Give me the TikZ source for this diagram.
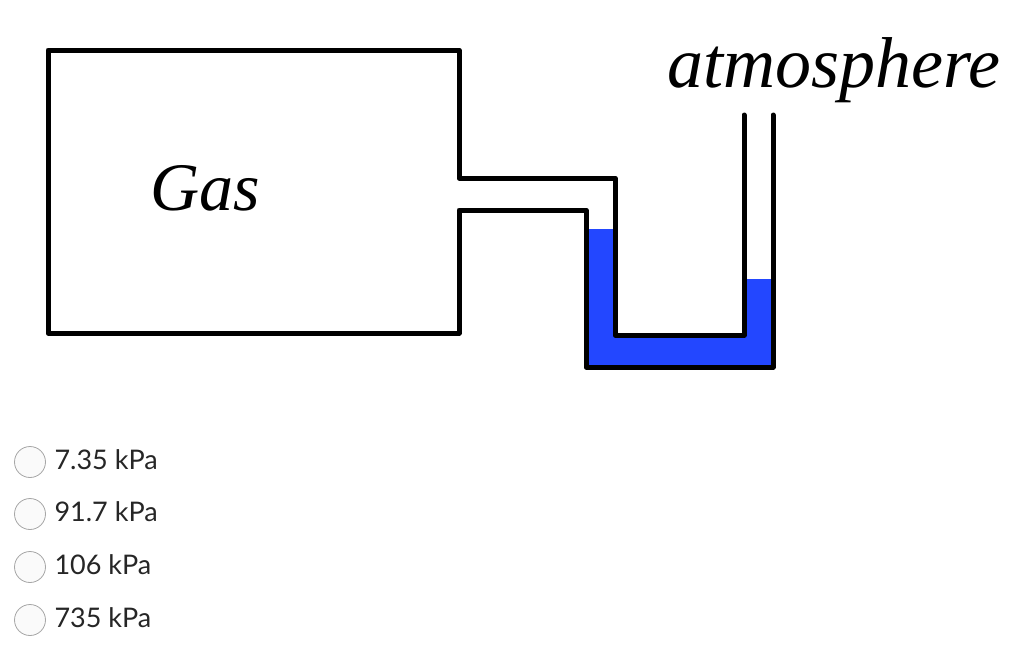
\documentclass[tikz,border=0pt]{standalone}
\usepackage{fontspec}
\setmainfont{Liberation Serif}
\newfontfamily\optfont{Lato}
\definecolor{fluid}{HTML}{2347FF}
\begin{document}
\begin{tikzpicture}[x=1pt,y=-1pt,
  wall/.style={line width=5pt,line join=round,line cap=round},
  radio/.style={circle,draw=gray!70,fill=gray!4,line width=0.8pt,minimum size=31pt,inner sep=0pt},
  opt/.style={anchor=west,font=\optfont\fontsize{27}{30}\selectfont,text=black!85}]
\useasboundingbox (0,0) rectangle (1024,657);
\fill[fluid] (586,229) rectangle (615,367);
\fill[fluid] (586,335) rectangle (773,367);
\fill[fluid] (744,279) rectangle (773,367);
\draw[wall] (744,115) -- (744,335) -- (615,335) -- (615,178) -- (459,178) -- (459,50) -- (48,50) -- (48,333) -- (459,333) -- (459,210) -- (586,210) -- (586,367) -- (773,367) -- (773,115);
\node[font=\itshape\fontsize{72}{80}\selectfont] (atm) at (834,70) {atmosphere};
\node[font=\itshape\fontsize{68}{76}\selectfont] (gas) at (205,188) {Gas};
\foreach \y/\t [count=\i] in {462/7.35 kPa,514/91.7 kPa,567/106 kPa,620/735 kPa}{
  \node[radio] (r\i) at (30,\y) {};
  \node[opt] (t\i) at (51,\y-2) {\t};
}
\end{tikzpicture}
\end{document}
